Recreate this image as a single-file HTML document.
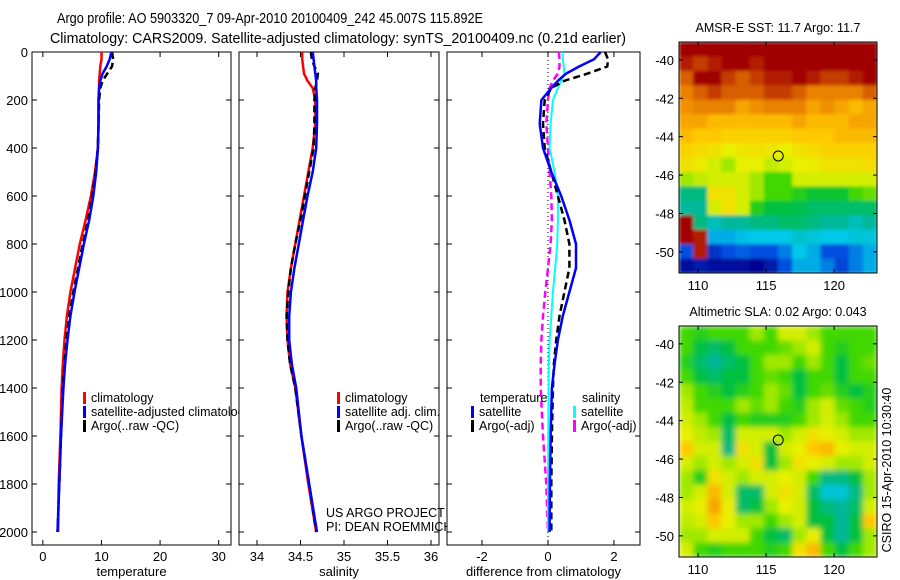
<!DOCTYPE html>
<html><head><meta charset="utf-8"><style>
html,body{margin:0;padding:0;background:#fff;}
svg{display:block;font-family:"Liberation Sans",sans-serif;}
text{fill:#000;}
</style></head><body>
<svg id="fig" width="900" height="580" viewBox="0 0 900 580" xmlns="http://www.w3.org/2000/svg">
<defs>
<filter id="blurS" x="0" y="0" width="1" height="1"><feGaussianBlur stdDeviation="1.5"/></filter>
<filter id="blurL" x="0" y="0" width="1" height="1"><feGaussianBlur stdDeviation="3"/></filter>
<clipPath id="clipSst"><rect x="679" y="42" width="198" height="231"/></clipPath>
<clipPath id="clipSla"><rect x="679" y="326" width="198" height="231"/></clipPath>
</defs>
<text x="57" y="23" font-size="15" textLength="426" lengthAdjust="spacingAndGlyphs">Argo profile: AO 5903320_7 09-Apr-2010 20100409_242 45.007S 115.892E</text>
<text x="50" y="43" font-size="15" textLength="576" lengthAdjust="spacingAndGlyphs">Climatology: CARS2009. Satellite-adjusted climatology: synTS_20100409.nc (0.21d earlier)</text>
<text x="778" y="32" font-size="12.5" text-anchor="middle">AMSR-E SST: 11.7 Argo: 11.7</text>
<text x="778" y="316" font-size="12.5" text-anchor="middle">Altimetric SLA: 0.02 Argo: 0.043</text>
<text x="0" y="0" font-size="12.5" text-anchor="middle" transform="translate(891,470) rotate(-90)">CSIRO 15-Apr-2010 10:30:40</text>
<g id="g"></g>
</svg>
<script>
// ---- profile data ----
const depths = [0,30,60,90,120,150,200,300,400,500,600,700,800,900,1000,1100,1200,1300,1400,1600,1800,2000];
const tempClim = [10.0,10.0,9.8,9.7,9.6,9.6,9.5,9.5,9.4,8.9,8.2,7.3,6.3,5.5,4.7,4.1,3.7,3.4,3.2,3.0,2.7,2.6];
const tempSat  = [11.7,11.4,10.9,10.2,9.8,9.6,9.5,9.5,9.4,9.1,8.6,7.9,7.0,6.2,5.4,4.7,4.2,3.8,3.5,3.1,2.8,2.5];
const tempArgo = [11.8,12.0,11.8,11.0,10.2,9.8,9.6,9.5,9.4,9.0,8.4,7.7,6.8,6.0,5.2,4.5,4.0,3.7,3.4,3.1,2.8,2.5];
const salClim = [34.52,34.52,34.53,34.54,34.58,34.64,34.67,34.67,34.64,34.59,34.54,34.49,34.44,34.39,34.35,34.34,34.35,34.38,34.44,34.51,34.59,34.68];
const salSat  = [34.64,34.65,34.66,34.67,34.68,34.68,34.69,34.69,34.68,34.64,34.58,34.53,34.48,34.43,34.39,34.37,34.37,34.40,34.45,34.51,34.60,34.69];
const salArgo = [34.62,34.63,34.66,34.70,34.69,34.67,34.66,34.66,34.65,34.60,34.55,34.50,34.44,34.39,34.36,34.34,34.35,34.38,34.44,34.51,34.60,34.68];
const dTempSat  = [1.6,1.4,0.95,0.55,0.3,0.1,-0.2,-0.25,-0.15,0.1,0.4,0.65,0.85,0.85,0.65,0.45,0.3,0.2,0.12,0.08,0.06,0.05];
const dTempArgo = [1.73,1.82,1.8,1.2,0.5,0.1,-0.1,-0.15,-0.1,0.1,0.3,0.5,0.65,0.65,0.5,0.35,0.25,0.18,0.15,0.12,0.1,0.1];
const dSalSat   = [0.44,0.45,0.48,0.5,0.4,0.3,0.15,0.08,0.05,0.2,0.3,0.3,0.28,0.22,0.15,0.1,0.05,0.03,0.02,0.01,0.0,0.0];
const dSalArgo  = [0.33,0.35,0.35,0.3,0.15,0.05,0.0,-0.05,0.0,0.05,0.1,0.12,0.08,0.0,-0.08,-0.15,-0.2,-0.22,-0.22,-0.15,-0.05,0.0];
const depthTicks = [0,200,400,600,800,1000,1200,1400,1600,1800,2000];
const tempTicks = [0,10,20,30];
const salTicks = [34,34.5,35,35.5,36];
const diffTicks = [-2,0,2];
// ---- map data (jet-like index 0..1), rows top(north) to bottom ----
const sstGrid = [
[1,1,1,1,1,1,1,1,1,1,1,1,1,1],
[0.95,0.9,0.95,1,1,0.95,1,1,1,1,1,1,1,1],
[0.85,1,1,0.9,0.85,0.9,0.95,0.95,1,0.95,0.9,0.9,0.95,1],
[0.8,0.85,0.9,0.85,0.85,0.85,0.9,0.9,0.85,0.8,0.8,0.8,0.8,0.85],
[0.78,0.8,0.8,0.8,0.75,0.78,0.8,0.8,0.8,0.75,0.78,0.75,0.72,0.75],
[0.75,0.75,0.72,0.72,0.72,0.72,0.72,0.72,0.75,0.72,0.72,0.72,0.75,0.75],
[0.72,0.7,0.7,0.68,0.68,0.68,0.68,0.68,0.7,0.7,0.7,0.72,0.72,0.72],
[0.68,0.66,0.65,0.62,0.64,0.65,0.64,0.62,0.65,0.66,0.68,0.68,0.68,0.68],
[0.65,0.63,0.6,0.55,0.62,0.62,0.58,0.6,0.62,0.63,0.65,0.65,0.65,0.66],
[0.55,0.58,0.6,0.6,0.6,0.55,0.5,0.5,0.6,0.6,0.6,0.6,0.6,0.6],
[0.4,0.4,0.65,0.65,0.6,0.55,0.5,0.5,0.48,0.46,0.46,0.46,0.5,0.52],
[0.38,0.38,0.6,0.65,0.6,0.48,0.45,0.45,0.44,0.42,0.42,0.42,0.42,0.42],
[1,0.4,0.36,0.38,0.38,0.4,0.4,0.42,0.42,0.4,0.38,0.38,0.36,0.38],
[1,0.95,0.3,0.3,0.32,0.33,0.33,0.33,0.35,0.34,0.33,0.33,0.34,0.34],
[0.2,0.95,0.15,0.2,0.22,0.2,0.2,0.25,0.33,0.3,0.2,0.2,0.25,0.3],
[0.08,0.1,0.08,0.08,0.08,0.06,0.1,0.2,0.3,0.3,0.25,0.18,0.25,0.3]];
const slaGrid = [
[0.5,0.48,0.5,0.5,0.5,0.55,0.5,0.6,0.6,0.55,0.5,0.5,0.5,0.5],
[0.5,0.45,0.42,0.45,0.5,0.5,0.5,0.52,0.55,0.6,0.5,0.48,0.5,0.5],
[0.48,0.42,0.38,0.42,0.45,0.5,0.55,0.55,0.5,0.55,0.5,0.45,0.5,0.52],
[0.5,0.45,0.42,0.45,0.45,0.5,0.52,0.5,0.45,0.5,0.5,0.45,0.5,0.5],
[0.55,0.5,0.48,0.45,0.48,0.5,0.55,0.52,0.45,0.5,0.52,0.48,0.45,0.48],
[0.58,0.5,0.5,0.5,0.55,0.52,0.55,0.5,0.48,0.55,0.6,0.52,0.5,0.48],
[0.6,0.55,0.5,0.45,0.5,0.48,0.48,0.48,0.5,0.55,0.6,0.55,0.5,0.5],
[0.62,0.58,0.55,0.42,0.6,0.6,0.6,0.55,0.6,0.65,0.62,0.6,0.55,0.55],
[0.7,0.6,0.6,0.4,0.65,0.6,0.45,0.6,0.62,0.7,0.72,0.62,0.6,0.6],
[0.6,0.55,0.6,0.55,0.6,0.65,0.45,0.55,0.65,0.62,0.6,0.55,0.55,0.6],
[0.55,0.48,0.65,0.6,0.55,0.6,0.6,0.62,0.6,0.5,0.4,0.4,0.45,0.55],
[0.55,0.6,0.72,0.6,0.42,0.42,0.6,0.65,0.6,0.42,0.34,0.34,0.4,0.55],
[0.6,0.62,0.75,0.62,0.42,0.45,0.55,0.62,0.6,0.45,0.4,0.38,0.42,0.6],
[0.58,0.6,0.7,0.62,0.55,0.55,0.5,0.55,0.6,0.45,0.45,0.38,0.45,0.7],
[0.55,0.55,0.6,0.6,0.6,0.5,0.45,0.42,0.55,0.62,0.45,0.38,0.45,0.55],
[0.6,0.5,0.48,0.5,0.5,0.5,0.48,0.5,0.65,0.72,0.5,0.45,0.5,0.55]];
const lonTicks = [110,115,120];
const latTicks = [-40,-42,-44,-46,-48,-50];
const argoLon = 115.892, argoLat = -45.007;

const NS = 'http://www.w3.org/2000/svg';
const G = document.getElementById('g');
function mk(tag, attrs, parent){
  const e = document.createElementNS(NS, tag);
  for (const k in attrs) e.setAttribute(k, attrs[k]);
  (parent||G).appendChild(e);
  return e;
}
function txt(x,y,s,anchor,size){
  const t = mk('text',{x:x,y:y,'font-size':size||13,'text-anchor':anchor||'start'});
  t.textContent = s; return t;
}
const yTop = 52, yBot = 545;
function yScale(d){ return 52 + d*0.24; }

function panel(name, x0, x1, xmin, xmax, xticks, xlabel, showY){
  const sx = v => x0 + (v - xmin)/(xmax - xmin)*(x1 - x0);
  const box = mk('rect',{x:x0,y:yTop,width:x1-x0,height:yBot-yTop,fill:'#fff',stroke:'#000','stroke-width':1});
  
  
  depthTicks.forEach(d=>{
    const y = yScale(d);
    mk('line',{x1:x0,y1:y,x2:x0+5,y2:y,stroke:'#000'});
    mk('line',{x1:x1,y1:y,x2:x1-5,y2:y,stroke:'#000'});
    if (showY){ const t = txt(x0-4,y+5,String(d),'end');   }
  });
  xticks.forEach(v=>{
    const x = sx(v);
    mk('line',{x1:x,y1:yBot,x2:x,y2:yBot-5,stroke:'#000'});
    mk('line',{x1:x,y1:yTop,x2:x,y2:yTop+5,stroke:'#000'});
    const t = txt(x,yBot+16,String(v),'middle');
    
    
  });
  const lab = txt((x0+x1)/2, 576, xlabel, 'middle');
  
  
  return sx;
}
function series(sx, vals, color, dash, w, nm){
  const pts = vals.map((v,i)=> sx(v).toFixed(1)+','+yScale(depths[i]).toFixed(1)).join(' ');
  const p = mk('polyline',{points:pts,fill:'none',stroke:color,'stroke-width':w||2.5,'stroke-linejoin':'round'});
  if (dash) p.setAttribute('stroke-dasharray', dash);
  
  
}
function legend(x, y, color, label, nm){
  mk('rect',{x:x,y:y-10,width:3,height:12,fill:color});
  const t = txt(x+8, y, label, 'start', 12.5);
  
  
}

// panel 1
const sT = panel('temperature', 32, 231, -1.85, 32.1, tempTicks, 'temperature', true);
series(sT, tempClim, '#ff0000', null, 2.5, 'temp-climatology-line');
series(sT, tempArgo, '#000000', '7 4', 2.5, 'temp-argo-line');
series(sT, tempSat, '#0000ff', null, 2.5, 'temp-satellite-line');
legend(83, 402, '#ff0000', 'climatology', 'legend-climatology');
legend(83, 416, '#0000ff', 'satellite-adjusted climatology', 'legend-satellite-adjusted');
legend(83, 430, '#000000', 'Argo(..raw -QC)', 'legend-argo');

// panel 2
const sS = panel('salinity', 239, 439, 33.793, 36.092, salTicks, 'salinity', false);
series(sS, salClim, '#ff0000', null, 2.5, 'sal-climatology-line');
series(sS, salArgo, '#000000', '7 4', 2.5, 'sal-argo-line');
series(sS, salSat, '#0000ff', null, 2.5, 'sal-satellite-line');
legend(337, 402, '#ff0000', 'climatology', 'legend-sal-climatology');
legend(337, 416, '#0000ff', 'satellite adj. clim.', 'legend-sal-satellite');
legend(337, 430, '#000000', 'Argo(..raw -QC)', 'legend-sal-argo');
const c1 = txt(326, 517, 'US ARGO PROJECT', 'start', 12.5);
 
const c2 = txt(326, 531, 'PI: DEAN ROEMMICH', 'start', 12.5);
 

// panel 3
const sD = panel('difference', 447, 640, -3.06, 2.79, diffTicks, 'difference from climatology', false);
const zl = mk('line',{x1:sD(0),y1:yTop,x2:sD(0),y2:yBot,stroke:'#000','stroke-width':1,'stroke-dasharray':'1 3'});
 
series(sD, dSalArgo, '#ff00ff', '7 4', 2.5, 'diff-sal-argo-line');
series(sD, dSalSat, '#00ffff', null, 2, 'diff-sal-satellite-line');
series(sD, dTempArgo, '#000000', '7 4', 2.5, 'diff-temp-argo-line');
series(sD, dTempSat, '#0000ff', null, 2.5, 'diff-temp-satellite-line');
const lt = txt(480, 402, 'temperature', 'start', 12.5);
 
const ls = txt(582, 402, 'salinity', 'start', 12.5);
 
legend(471, 416, '#0000ff', 'satellite', 'legend-diff-temp-satellite');
legend(471, 430, '#000000', 'Argo(-adj)', 'legend-diff-temp-argo');
legend(573, 416, '#00ffff', 'satellite', 'legend-diff-sal-satellite');
legend(573, 430, '#ff00ff', 'Argo(-adj)', 'legend-diff-sal-argo');

// colormap
const stops = [[0,[0,0,128]],[0.05,[0,0,140]],[0.2,[0,80,224]],[0.33,[0,200,232]],[0.38,[0,184,154]],[0.45,[0,192,64]],[0.5,[64,216,0]],[0.55,[160,232,0]],[0.62,[232,240,0]],[0.7,[255,200,0]],[0.78,[240,144,0]],[0.87,[208,80,0]],[1,[160,0,0]]];
function cmap(v){
  for (let i=1;i<stops.length;i++){
    if (v <= stops[i][0]){
      const a = stops[i-1], b = stops[i], t = (v-a[0])/(b[0]-a[0]);
      const c = a[1].map((q,k)=>Math.round(q+(b[1][k]-q)*t));
      return 'rgb('+c.join(',')+')';
    }
  }
  return 'rgb(160,0,0)';
}
function mapPanel(name, grid, y0, y1, clipId, filterId){
  const x0 = 679, x1 = 877, lon0 = 108.6, lon1 = 123.15, lat0 = -39.07, lat1 = -51.1;
  const sx = v => x0 + (v-lon0)/(lon1-lon0)*(x1-x0);
  const sy = v => y0 + (v-lat0)/(lat1-lat0)*(y1-y0);
  const rows = grid.length, cols = grid[0].length;
  const cw = (x1-x0)/cols, ch = (y1-y0)/rows;
  const clipG = mk('g',{'clip-path':'url(#'+clipId+')'});
  const cellsG = mk('g',{filter:'url(#'+filterId+')'}, clipG);
  
  
  grid.forEach((row,r)=>row.forEach((v,c)=>{
    const cell = mk('rect',{x:(x0+c*cw).toFixed(2),y:(y0+r*ch).toFixed(2),width:(cw+0.6).toFixed(2),height:(ch+0.6).toFixed(2),fill:cmap(v)}, cellsG);
    
    
  }));
  const fr = mk('rect',{x:x0,y:y0,width:x1-x0,height:y1-y0,fill:'none',stroke:'#000'});
  
  
  lonTicks.forEach(v=>{
    const x = sx(v);
    mk('line',{x1:x,y1:y1,x2:x,y2:y1-4,stroke:'#000'});
    mk('line',{x1:x,y1:y0,x2:x,y2:y0+4,stroke:'#000'});
    const t = txt(x, y1+17, String(v), 'middle');
     
  });
  latTicks.forEach(v=>{
    const y = sy(v);
    mk('line',{x1:x0,y1:y,x2:x0+4,y2:y,stroke:'#000'});
    mk('line',{x1:x1,y1:y,x2:x1-4,y2:y,stroke:'#000'});
    const t = txt(x0-5, y+5, String(v), 'end');
     
  });
  const c = mk('circle',{cx:sx(argoLon),cy:sy(argoLat),r:5,fill:'none',stroke:'#000','stroke-width':1});
  
  
}
mapPanel('sst-map', sstGrid, 42, 273, 'clipSst', 'blurS');
mapPanel('sla-map', slaGrid, 326, 557, 'clipSla', 'blurL');
</script>
</body></html>
